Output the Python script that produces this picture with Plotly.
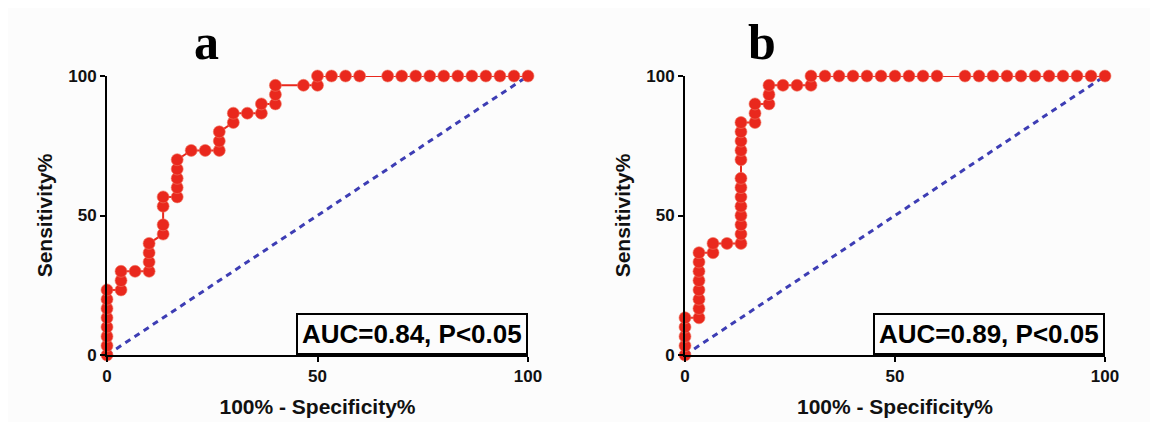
import plotly.graph_objects as go

# Panel a ROC points (100% - Specificity%, Sensitivity%)
fpr_a = [0, 0, 0, 0, 0, 0, 0, 0,
         3.33, 3.33, 3.33, 6.67, 10, 10, 10, 10,
         13.33, 13.33, 13.33, 13.33,
         16.67, 16.67, 16.67, 16.67, 16.67,
         20, 23.33, 26.67, 26.67, 26.67,
         30, 30, 33.33, 36.67, 36.67,
         40, 40, 40, 46.67, 50, 50, 53.33, 56.67, 60,
         66.67, 70, 73.33, 76.67, 80, 83.33, 86.67, 90, 93.33, 96.67, 100]
tpr_a = [0, 3.33, 6.67, 10, 13.33, 16.67, 20, 23.33,
         23.33, 26.67, 30, 30, 30, 33.33, 36.67, 40,
         43.33, 46.67, 53.33, 56.67,
         56.67, 60, 63.33, 66.67, 70,
         73.33, 73.33, 73.33, 76.67, 80,
         83.33, 86.67, 86.67, 86.67, 90,
         90, 93.33, 96.67, 96.67, 96.67, 100, 100, 100, 100,
         100, 100, 100, 100, 100, 100, 100, 100, 100, 100, 100]

# Panel b ROC points
fpr_b = [0, 0, 0, 0, 0,
         3.33, 3.33, 3.33, 3.33, 3.33, 3.33, 3.33, 3.33,
         6.67, 6.67, 10,
         13.33, 13.33, 13.33, 13.33, 13.33, 13.33, 13.33,
         13.33, 13.33, 13.33, 13.33, 13.33, 13.33,
         16.67, 16.67, 16.67, 20, 20, 20, 23.33, 26.67, 30, 30,
         33.33, 36.67, 40, 43.33, 46.67, 50, 53.33, 56.67, 60,
         66.67, 70, 73.33, 76.67, 80, 83.33, 86.67, 90, 93.33, 96.67, 100]
tpr_b = [0, 3.33, 6.67, 10, 13.33,
         13.33, 16.67, 20, 23.33, 26.67, 30, 33.33, 36.67,
         36.67, 40, 40,
         40, 43.33, 46.67, 50, 53.33, 56.67, 60,
         63.33, 70, 73.33, 76.67, 80, 83.33,
         83.33, 86.67, 90, 90, 93.33, 96.67, 96.67, 96.67, 96.67, 100,
         100, 100, 100, 100, 100, 100, 100, 100, 100,
         100, 100, 100, 100, 100, 100, 100, 100, 100, 100, 100]

diag = [0, 100]
panel_labels = ["a", "b"]
auc_texts = ["AUC=0.84, P<0.05", "AUC=0.89, P<0.05"]
tick_vals = [0, 50, 100]
x_title = "100% - Specificity%"
y_title = "Sensitivity%"

RED = "#e9281d"
BLUE = "#3d3db4"
W, H = 1158, 422
OFF = 8  # default page body margin shifts the figure by this many px
SANS = "Liberation Sans, Arial, sans-serif"

fig = go.Figure()
panels = [(fpr_a, tpr_a, "x", "y"), (fpr_b, tpr_b, "x2", "y2")]
for fx, ty, xa, ya in panels:
    fig.add_trace(go.Scatter(x=diag, y=diag, mode="lines", xaxis=xa, yaxis=ya,
                             line=dict(color=BLUE, width=3, dash="6px,5px"),
                             showlegend=False, cliponaxis=False))
    fig.add_trace(go.Scatter(x=fx, y=ty, mode="lines+markers", xaxis=xa, yaxis=ya,
                             line=dict(color=RED, width=2),
                             marker=dict(color=RED, size=12,
                                         line=dict(color="rgba(240,120,100,0.6)", width=1)),
                             showlegend=False, cliponaxis=False))

font_ax = dict(family=SANS, size=17, color="#111", weight="bold")
title_font = dict(family=SANS, size=21, color="#111", weight="bold")
axis_common = dict(range=[0, 100], tickvals=tick_vals, ticks="outside", ticklen=5,
                   tickwidth=2, tickcolor="black", showline=True, linecolor="black",
                   linewidth=2, showgrid=False, zeroline=False, tickfont=font_ax,
                   automargin=False)

xdoms = [[(107 - OFF) / W, (528 - OFF) / W], [(685 - OFF) / W, (1105 - OFF) / W]]
ydom = [1 - (355 - OFF) / H, 1 - (76 - OFF) / H]

fig.update_layout(
    width=W, height=H, margin=dict(l=0, r=0, t=0, b=0),
    paper_bgcolor="#fcfcfc", plot_bgcolor="#fcfcfc",
    xaxis=dict(domain=xdoms[0], anchor="y", title=dict(text=x_title, font=title_font, standoff=14), **axis_common),
    yaxis=dict(domain=ydom, anchor="x", title=dict(text=y_title, font=title_font, standoff=10), **axis_common),
    xaxis2=dict(domain=xdoms[1], anchor="y2", title=dict(text=x_title, font=title_font, standoff=14), **axis_common),
    yaxis2=dict(domain=ydom, anchor="x2", title=dict(text=y_title, font=title_font, standoff=10), **axis_common),
)

for i, (xa, ya) in enumerate([("x", "y"), ("x2", "y2")]):
    fig.add_annotation(x=100, y=0, xref=xa, yref=ya, xanchor="right", yanchor="bottom",
                       text="<b>" + auc_texts[i] + "</b>", showarrow=False,
                       font=dict(family=SANS, size=26, color="black"),
                       bordercolor="black", borderwidth=2, borderpad=4, bgcolor="#fcfcfc")
    fig.add_annotation(x=([206, 762][i] - OFF) / W, y=1 - (42 - OFF) / H, xref="paper", yref="paper",
                       text="<b>" + panel_labels[i] + "</b>", showarrow=False,
                       font=dict(family="Liberation Serif, Times New Roman, serif", size=50, color="black"),
                       xanchor="center", yanchor="middle")

fig.write_html("out.html")
